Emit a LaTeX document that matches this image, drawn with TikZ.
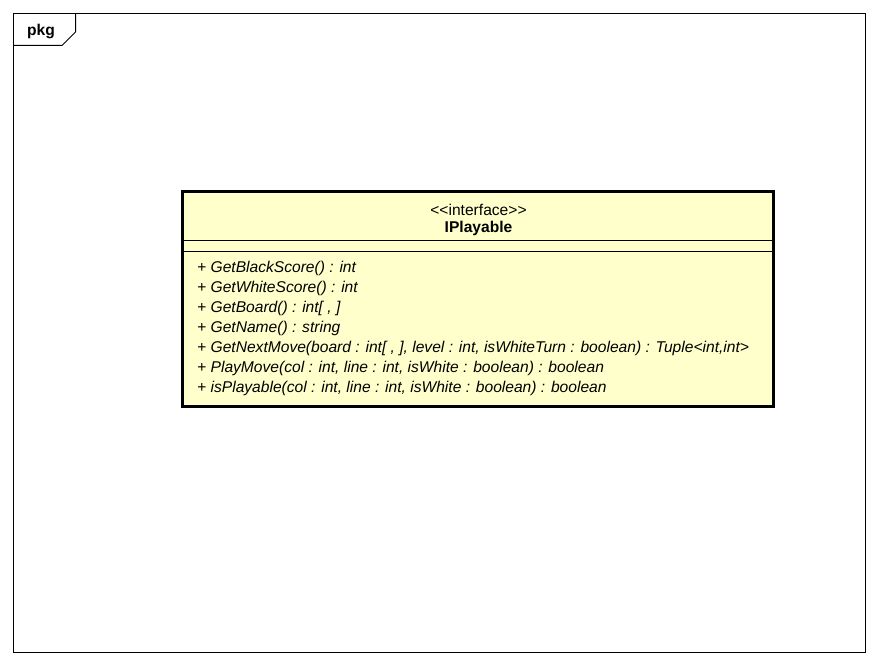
\documentclass[tikz,border=0pt]{standalone}
\usepackage{fontspec}
\setmainfont{Liberation Sans}
\definecolor{classfill}{RGB}{255,255,204}
\begin{document}
\begin{tikzpicture}[x=1pt,y=-1pt,
  thinline/.style={draw=black,line width=1pt},
  txt/.style={inner sep=0pt,font=\fontsize{15.6}{18}\selectfont},
  optxt/.style={txt,anchor=base west,font=\fontsize{15.6}{18}\selectfont\itshape}]
\useasboundingbox (0,0) rectangle (880,666);
% package frame
\draw[thinline] (13.5,13.5) rectangle (865.5,652.5);
\draw[thinline] (13.5,45.5) -- (62,45.5) -- (75.5,32) -- (75.5,13.5);
\node[txt,anchor=base west,font=\fontsize{15.6}{18}\selectfont\bfseries] (pkg) at (27,35.5) {pkg};
% class box
\draw[fill=classfill,draw=black,line width=3pt] (182.5,191.5) rectangle (773.5,406.5);
\draw[thinline] (184,240.5) -- (772,240.5);
\draw[thinline] (184,251.5) -- (772,251.5);
\node[txt,anchor=base] (stereo) at (478.5,215.5) {{<}{<}interface{>}{>}};
\node[txt,anchor=base,font=\fontsize{15.6}{18}\selectfont\bfseries] (name) at (478.5,232) {IPlayable};
\node[optxt] (m1) at (197,272.5) {+ GetBlackScore() : int};
\node[optxt] (m2) at (197,292.5) {+ GetWhiteScore() : int};
\node[optxt] (m3) at (197,312.5) {+ GetBoard() : int[ , ]};
\node[optxt] (m4) at (197,332.5) {+ GetName() : string};
\node[optxt] (m5) at (197,352.5) {+ GetNextMove(board : int[ , ], level : int, isWhiteTurn : boolean) : Tuple{<}int,int{>}};
\node[optxt] (m6) at (197,372.5) {+ PlayMove(col : int, line : int, isWhite : boolean) : boolean};
\node[optxt] (m7) at (197,392.5) {+ isPlayable(col : int, line : int, isWhite : boolean) : boolean};
\end{tikzpicture}
\end{document}
